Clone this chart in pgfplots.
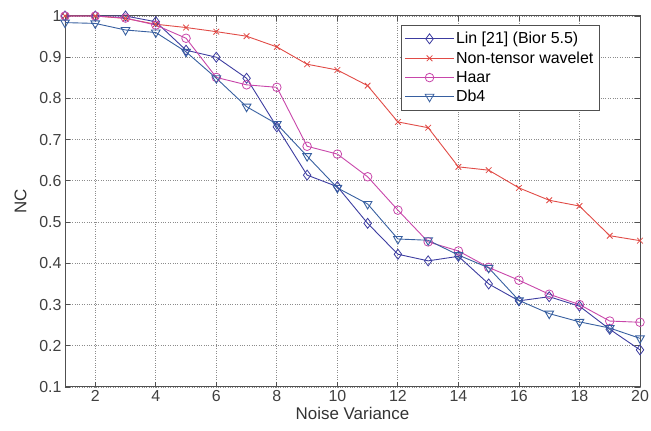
\documentclass[border=0pt]{standalone}
\usepackage{pgfplots}
\pgfplotsset{compat=1.18}
\usepackage{fontspec}
\setmainfont{Liberation Sans}
\usetikzlibrary{calc}
\definecolor{linc}{RGB}{60,60,160}
\definecolor{ntc}{RGB}{225,75,70}
\definecolor{haarc}{RGB}{200,70,170}
\definecolor{dbc}{RGB}{55,95,160}
\definecolor{axc}{RGB}{80,80,80}
\begin{document}
\begin{tikzpicture}
\begin{axis}[
    scale only axis,
    width=575bp, height=371bp,
    xmin=1, xmax=20, ymin=0.1, ymax=1,
    xtick={2,4,...,20},
    ytick={0.1,0.2,...,1.0},
    yticklabel style={/pgf/number format/fixed},
    /pgf/number format/assume math mode=true,
    tick label style={font=\fontsize{16}{18}\selectfont, text=black!75},
    label style={font=\fontsize{17}{19}\selectfont, text=black!80},
    xlabel={Noise Variance},
    ylabel={NC},
    xlabel style={yshift=1bp},
    ylabel style={yshift=6bp},
    grid=major,
    major grid style={dotted, gray!90, line width=0.8pt},
    tick align=inside,
    major tick length=5bp,
    tick style={axc, line width=0.8pt},
    axis line style={axc, line width=1pt},
    legend cell align=left,
    legend style={at={(0.930,0.976)}, anchor=north east,
        font=\fontsize{16}{18}\selectfont, draw=axc, line width=0.8pt,
        row sep=2.5bp, inner xsep=4bp, inner ysep=5bp},
    legend image post style={line width=0.8pt},
    legend image code/.code={\draw[#1] (0cm,0cm) -- (1.7cm,0cm); \draw[#1] plot coordinates {(0.85cm,0cm)};},
    every axis plot/.append style={line width=0.9pt, mark size=4.3bp, mark options={solid, line width=0.8pt, fill=none}},
]
\addplot[linc, mark=diamond, mark size=5bp] coordinates {
 (1,1.0) (2,1.0) (3,1.0) (4,0.986) (5,0.917) (6,0.900) (7,0.849) (8,0.731)
 (9,0.614) (10,0.586) (11,0.497) (12,0.422) (13,0.406) (14,0.417) (15,0.350)
 (16,0.309) (17,0.319) (18,0.296) (19,0.240) (20,0.190)
};
\addlegendentry{Lin [21] (Bior 5.5)}
\addplot[ntc, mark=x, mark size=4bp] coordinates {
 (1,1.0) (2,1.0) (3,0.994) (4,0.980) (5,0.972) (6,0.962) (7,0.951) (8,0.925)
 (9,0.883) (10,0.869) (11,0.831) (12,0.743) (13,0.729) (14,0.634) (15,0.626)
 (16,0.583) (17,0.553) (18,0.539) (19,0.467) (20,0.455)
};
\addlegendentry{Non-tensor wavelet}
\addplot[haarc, mark=o] coordinates {
 (1,1.0) (2,1.0) (3,0.995) (4,0.978) (5,0.946) (6,0.851) (7,0.833) (8,0.827)
 (9,0.684) (10,0.665) (11,0.610) (12,0.529) (13,0.452) (14,0.430) (15,0.390)
 (16,0.359) (17,0.325) (18,0.300) (19,0.260) (20,0.257)
};
\addlegendentry{Haar}
\addplot[dbc, mark=triangle, mark size=5bp, mark options={rotate=180}] coordinates {
 (1,0.984) (2,0.982) (3,0.966) (4,0.960) (5,0.913) (6,0.849) (7,0.780) (8,0.738)
 (9,0.660) (10,0.583) (11,0.544) (12,0.459) (13,0.456) (14,0.420) (15,0.389)
 (16,0.310) (17,0.278) (18,0.258) (19,0.243) (20,0.218)
};
\addlegendentry{Db4}
\end{axis}
\pgfresetboundingbox
\path[use as bounding box] ($(current axis.south west)+(-65bp,-44bp)$) rectangle ($(current axis.north east)+(11bp,16bp)$);
\end{tikzpicture}
\end{document}
